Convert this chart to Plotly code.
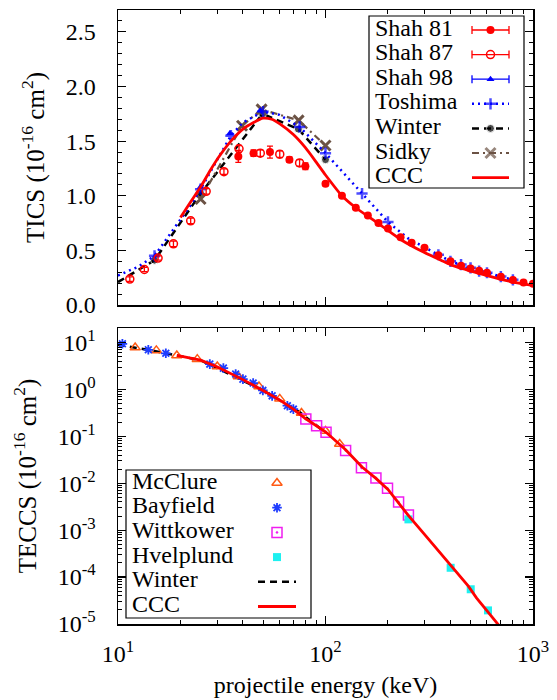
import plotly.graph_objects as go

# ---------------- data: TICS (upper panel) ----------------
shah81_E = [38, 45, 54, 67, 80, 100, 120, 140, 160, 180, 200, 230, 260, 300,
            350, 400, 450, 500, 550, 600, 700, 800, 900, 1000]
shah81_v = [1.36, 1.39, 1.40, 1.33, 1.27, 1.11, 1.00, 0.89, 0.82, 0.75, 0.70,
            0.62, 0.57, 0.525, 0.456, 0.40, 0.36, 0.335, 0.313, 0.295, 0.258,
            0.228, 0.205, 0.195]
shah81_err = [0.055, 0.03, 0.055, 0.025, 0.03, 0.02, 0.015, 0.015, 0.012, 0.012,
              0.012, 0.012, 0.012, 0.012, 0.01, 0.01, 0.01, 0.01, 0.01, 0.01,
              0.01, 0.01, 0.01, 0.01]

shah87_E = [11.4, 13.4, 15.6, 18.5, 22.4, 26.6, 32.4, 38.3, 48.5, 60.2, 75]
shah87_v = [0.237, 0.325, 0.43, 0.56, 0.77, 1.04, 1.22, 1.43, 1.39, 1.38, 1.30]
shah87_err = [0.02, 0.02, 0.02, 0.025, 0.025, 0.025, 0.025, 0.03, 0.03, 0.03, 0.03]

shah98_E = [15.2, 25, 34.6, 48.5]
shah98_v = [0.45, 1.08, 1.57, 1.78]

toshima_E = [10, 12.5, 15, 20, 22.5, 25, 30, 35, 40, 50, 60, 75, 100, 125, 150,
             200, 250, 300, 350, 400, 450, 500, 550, 600, 700, 800]
toshima_v = [0.27, 0.35, 0.45, 0.78, 0.92, 1.06, 1.33, 1.55, 1.67, 1.77, 1.74,
             1.63, 1.39, 1.19, 1.02, 0.76, 0.61, 0.53, 0.46, 0.40, 0.37, 0.34,
             0.31, 0.295, 0.26, 0.23]
toshima_marked_E = [15, 25, 35, 50, 75, 100, 150, 200, 350, 400, 450, 500, 550,
                    600, 700, 800]

winter_E = [10, 15, 25, 49.7, 74, 100]
winter_v = [0.21, 0.41, 1.02, 1.75, 1.61, 1.33]
winter_marked_E = [15, 25, 49.7, 74, 100]

sidky_E = [25, 39.6, 49.2, 74.2, 100]
sidky_v = [0.97, 1.64, 1.79, 1.69, 1.46]

ccc_E = [20, 22.5, 25, 28, 31, 35, 40, 45, 50, 55, 60, 70, 80, 90, 100, 120,
         140, 180, 230, 300, 360, 400, 550, 800, 1000]
ccc_v = [0.80, 0.95, 1.08, 1.24, 1.37, 1.50, 1.61, 1.67, 1.71, 1.70, 1.66, 1.56,
         1.44, 1.31, 1.19, 1.00, 0.89, 0.745, 0.60, 0.48, 0.41, 0.37, 0.29,
         0.21, 0.18]

# ---------------- data: TECCS (lower panel) ----------------
mcclure_E = [12.1, 15.3, 19.2, 24.1, 30.1, 38, 47.8, 60.2, 76.6, 100, 117]
mcclure_v = [7.8, 6.8, 5.3, 4.43, 3.08, 1.89, 1.16, 0.63, 0.315, 0.13, 0.069]

bayfield_E = [10.5, 14.0, 17.0, 27.7, 32.2, 36.9, 40.0, 44.8, 49.9, 55.3, 65.5, 70]
bayfield_v = [9.4, 7.0, 5.9, 3.47, 2.85, 2.13, 1.66, 1.37, 0.955, 0.73, 0.45, 0.38]

wittkower_E = [80.4, 90.6, 100.6, 125, 149, 175, 199, 225, 251]
wittkower_v = [0.234, 0.169, 0.122, 0.050, 0.0213, 0.0130, 0.0078, 0.0040, 0.0021]

hvelplund_E = [251, 401, 501, 607]
hvelplund_v = [0.0017, 1.58e-4, 5.5e-5, 1.95e-5]

winter_teccs_E = [10, 15, 25, 50, 75, 100]
winter_teccs_v = [9.0, 6.6, 4.2, 0.95, 0.33, 0.12]

ccc_teccs_E = [19.2, 25, 30, 40, 50, 60, 70, 80, 100, 125, 150, 175, 200, 250,
               300, 357, 401, 488, 534, 668, 700]
ccc_teccs_v = [5.3, 4.2, 3.05, 1.62, 0.95, 0.60, 0.38, 0.24, 0.125, 0.052,
               0.0222, 0.0127, 0.0074, 0.0021, 8.1e-4, 3.3e-4, 1.78e-4, 6.4e-5,
               3.6e-5, 1.07e-5, 8.3e-6]

# ---------------- tick labels ----------------
x_tickvals = [10, 100, 1000]
x_ticktext = ["10<sup>1</sup>", "10<sup>2</sup>", "10<sup>3</sup>"]
y2_tickvals = [1e-5, 1e-4, 1e-3, 1e-2, 1e-1, 1, 10]
y2_ticktext = ["10<sup>-5</sup>", "10<sup>-4</sup>", "10<sup>-3</sup>",
               "10<sup>-2</sup>", "10<sup>-1</sup>", "10<sup>0</sup>", "10<sup>1</sup>"]

top_legend_names = ["Shah 81", "Shah 87", "Shah 98", "Toshima", "Winter", "Sidky", "CCC"]
bot_legend_names = ["McClure", "Bayfield", "Wittkower", "Hvelplund", "Winter", "CCC"]

# ---------------- styling ----------------
FONT = "Liberation Serif"
FS = 24
RED = "#ff0000"
BLUE = "#0000ff"
BROWN = "#6b5244"
ORANGE = "#ff5a14"
SBLUE = "#1e3cff"
MAGENTA = "#f01ef0"
CYAN = "#1ef0f0"

W, H = 557, 700
ML, MR, MT, MB = 118, 24, 10, 76
PW, PH = W - ML - MR, H - MT - MB


def px(x):
    return (x - ML) / PW


def py(y):
    return (H - MB - y) / PH


fig = go.Figure()


def marks(E, marked, size):
    return [size if e in marked else 0 for e in E]


# ---- upper panel traces ----
fig.add_trace(go.Scatter(x=winter_E, y=winter_v, mode="lines+markers", xaxis="x", yaxis="y",
                         line=dict(color="black", width=2.5, dash="7px,5px"),
                         marker=dict(color="black", size=marks(winter_E, winter_marked_E, 8))))
fig.add_trace(go.Scatter(x=sidky_E, y=sidky_v, mode="lines+markers", xaxis="x", yaxis="y",
                         line=dict(color=BROWN, width=2.2, dash="7px,4px,2px,4px"),
                         marker=dict(symbol="x-thin-open", color=BROWN, size=10,
                                     line=dict(color=BROWN, width=3))))
fig.add_trace(go.Scatter(x=toshima_E, y=toshima_v, mode="lines+markers", xaxis="x", yaxis="y",
                         line=dict(color=BLUE, width=2.5, dash="2px,4px"),
                         marker=dict(symbol="cross-thin-open", color=BLUE,
                                     size=marks(toshima_E, toshima_marked_E, 8),
                                     line=dict(color=BLUE, width=2.5))))
fig.add_trace(go.Scatter(x=shah98_E, y=shah98_v, mode="markers", xaxis="x", yaxis="y",
                         marker=dict(symbol="triangle-up", color=BLUE, size=7)))
fig.add_trace(go.Scatter(x=ccc_E, y=ccc_v, mode="lines", xaxis="x", yaxis="y",
                         line=dict(color=RED, width=2.8, shape="spline", smoothing=0.6)))
fig.add_trace(go.Scatter(x=shah87_E, y=shah87_v, mode="markers", xaxis="x", yaxis="y",
                         error_y=dict(type="data", array=shah87_err, color=RED,
                                      thickness=1.3, width=3),
                         marker=dict(symbol="circle-open", color=RED, size=8,
                                     line=dict(color=RED, width=1.5))))
fig.add_trace(go.Scatter(x=shah81_E, y=shah81_v, mode="markers", xaxis="x", yaxis="y",
                         error_y=dict(type="data", array=shah81_err, color=RED,
                                      thickness=1.3, width=3),
                         marker=dict(symbol="circle", color=RED, size=8)))

# ---- lower panel traces ----
fig.add_trace(go.Scatter(x=winter_teccs_E, y=winter_teccs_v, mode="lines", xaxis="x2", yaxis="y2",
                         line=dict(color="black", width=2.5, dash="7px,5px")))
fig.add_trace(go.Scatter(x=mcclure_E, y=mcclure_v, mode="markers", xaxis="x2", yaxis="y2",
                         marker=dict(symbol="triangle-up-open", color=ORANGE, size=9,
                                     line=dict(color=ORANGE, width=1.5))))
fig.add_trace(go.Scatter(x=bayfield_E, y=bayfield_v, mode="markers", xaxis="x2", yaxis="y2",
                         marker=dict(symbol="asterisk-open", color=SBLUE, size=8,
                                     line=dict(color=SBLUE, width=1.8))))
fig.add_trace(go.Scatter(x=wittkower_E, y=wittkower_v, mode="markers", xaxis="x2", yaxis="y2",
                         marker=dict(symbol="square-open-dot", color=MAGENTA, size=10,
                                     line=dict(color=MAGENTA, width=1.5))))
fig.add_trace(go.Scatter(x=hvelplund_E, y=hvelplund_v, mode="markers", xaxis="x2", yaxis="y2",
                         marker=dict(symbol="square", color=CYAN, size=8)))
fig.add_trace(go.Scatter(x=ccc_teccs_E, y=ccc_teccs_v, mode="lines", xaxis="x2", yaxis="y2",
                         line=dict(color=RED, width=2.8)))

# ---------------- legends (drawn by hand on an overlay axis) ----------------
shapes = []
annotations = []

# upper legend
TB = dict(x0=369, x1=524, y0=16, y1=188)
shapes.append(dict(type="rect", xref="paper", yref="paper",
                   x0=px(TB["x0"]), x1=px(TB["x1"]), y0=py(TB["y1"]), y1=py(TB["y0"]),
                   line=dict(color="black", width=1.2), fillcolor="white", layer="below"))
top_rows = [27.5 + 24.6 * i for i in range(len(top_legend_names))]
sx0, sx1, scx = px(472), px(509), px(490.5)
for name, ry in zip(top_legend_names, top_rows):
    annotations.append(dict(text=name, x=px(373), y=py(ry), xref="paper", yref="paper",
                            xanchor="left", yanchor="middle", showarrow=False,
                            font=dict(family=FONT, size=FS, color="black")))
r = [py(v + 2.5) for v in top_rows]
hw = (sx1 - sx0) / 2
fig.add_trace(go.Scatter(x=[scx], y=[r[0]], xaxis="x3", yaxis="y3", mode="markers",
                         error_x=dict(type="data", array=[hw], color=RED, thickness=1.3, width=4),
                         marker=dict(symbol="circle", color=RED, size=8)))
fig.add_trace(go.Scatter(x=[scx], y=[r[1]], xaxis="x3", yaxis="y3", mode="markers",
                         error_x=dict(type="data", array=[hw], color=RED, thickness=1.3, width=4),
                         marker=dict(symbol="circle-open", color=RED, size=8,
                                     line=dict(color=RED, width=1.5))))
fig.add_trace(go.Scatter(x=[scx], y=[r[2]], xaxis="x3", yaxis="y3", mode="markers",
                         error_x=dict(type="data", array=[hw], color=BLUE, thickness=1.3, width=4),
                         marker=dict(symbol="triangle-up", color=BLUE, size=7)))
fig.add_trace(go.Scatter(x=[sx0, scx, sx1], y=[r[3]] * 3, xaxis="x3", yaxis="y3",
                         mode="lines+markers",
                         line=dict(color=BLUE, width=2.5, dash="2px,4px"),
                         marker=dict(symbol="cross-thin-open", color=BLUE, size=[0, 8, 0],
                                     line=dict(color=BLUE, width=2.5))))
fig.add_trace(go.Scatter(x=[sx0, scx, sx1], y=[r[4]] * 3, xaxis="x3", yaxis="y3",
                         mode="lines+markers",
                         line=dict(color="black", width=2.5, dash="7px,5px"),
                         marker=dict(color="black", size=[0, 8, 0])))
fig.add_trace(go.Scatter(x=[sx0, scx, sx1], y=[r[5]] * 3, xaxis="x3", yaxis="y3",
                         mode="lines+markers",
                         line=dict(color=BROWN, width=2.2, dash="7px,4px,2px,4px"),
                         marker=dict(symbol="x-thin-open", color=BROWN, size=[0, 10, 0],
                                     line=dict(color=BROWN, width=3))))
fig.add_trace(go.Scatter(x=[sx0, sx1], y=[r[6]] * 2, xaxis="x3", yaxis="y3", mode="lines",
                         line=dict(color=RED, width=2.8)))

# lower legend
BB = dict(x0=126, x1=311, y0=470, y1=618)
shapes.append(dict(type="rect", xref="paper", yref="paper",
                   x0=px(BB["x0"]), x1=px(BB["x1"]), y0=py(BB["y1"]), y1=py(BB["y0"]),
                   line=dict(color="black", width=1.2), fillcolor="white", layer="below"))
bot_rows = [480.5 + 24.7 * i for i in range(len(bot_legend_names))]
bx0, bx1, bcx = px(258), px(296), px(277)
for name, ry in zip(bot_legend_names, bot_rows):
    annotations.append(dict(text=name, x=px(130), y=py(ry), xref="paper", yref="paper",
                            xanchor="left", yanchor="middle", showarrow=False,
                            font=dict(family=FONT, size=FS, color="black")))
b = [py(v + 2.5) for v in bot_rows]
fig.add_trace(go.Scatter(x=[bcx], y=[b[0]], xaxis="x3", yaxis="y3", mode="markers",
                         marker=dict(symbol="triangle-up-open", color=ORANGE, size=9,
                                     line=dict(color=ORANGE, width=1.5))))
fig.add_trace(go.Scatter(x=[bcx], y=[b[1]], xaxis="x3", yaxis="y3", mode="markers",
                         marker=dict(symbol="asterisk-open", color=SBLUE, size=8,
                                     line=dict(color=SBLUE, width=1.8))))
fig.add_trace(go.Scatter(x=[bcx], y=[b[2]], xaxis="x3", yaxis="y3", mode="markers",
                         marker=dict(symbol="square-open-dot", color=MAGENTA, size=10,
                                     line=dict(color=MAGENTA, width=1.5))))
fig.add_trace(go.Scatter(x=[bcx], y=[b[3]], xaxis="x3", yaxis="y3", mode="markers",
                         marker=dict(symbol="square", color=CYAN, size=8)))
fig.add_trace(go.Scatter(x=[bx0, bx1], y=[b[4]] * 2, xaxis="x3", yaxis="y3", mode="lines",
                         line=dict(color="black", width=2.5, dash="7px,5px")))
fig.add_trace(go.Scatter(x=[bx0, bx1], y=[b[5]] * 2, xaxis="x3", yaxis="y3", mode="lines",
                         line=dict(color=RED, width=2.8)))

# ---------------- axes ----------------
axis_common = dict(showline=True, linecolor="black", linewidth=1.5, mirror="allticks",
                   ticks="inside", ticklen=8, tickwidth=1.2, tickcolor="black",
                   showgrid=False, zeroline=False, automargin=False,
                   tickfont=dict(family=FONT, size=FS, color="black"))
top_dom = [py(305), 1.0]
bot_dom = [0.0, py(328)]
TITLE_FONT = dict(family=FONT, size=25, color="black")

fig.update_layout(
    template="none",
    width=W, height=H,
    margin=dict(l=ML, r=MR, t=MT, b=MB, autoexpand=False),
    paper_bgcolor="white", plot_bgcolor="rgba(0,0,0,0)",
    showlegend=False,
    font=dict(family=FONT, size=FS, color="black"),
    xaxis=dict(type="log", range=[1, 3], domain=[0, 1], anchor="y",
               tickvals=x_tickvals, showticklabels=False,
               minor=dict(ticks="inside", ticklen=4, dtick="D1", tickcolor="black", tickwidth=1),
               **axis_common),
    yaxis=dict(range=[0, 2.7], domain=top_dom, anchor="x", dtick=0.5, tickformat=".1f",
               ticklabelstandoff=16,
               minor=dict(ticks="inside", ticklen=4, dtick=0.1, tickcolor="black", tickwidth=1),
               title=dict(text="TICS (10<sup>-16</sup> cm<sup>2</sup>)", standoff=14,
                          font=TITLE_FONT),
               **axis_common),
    xaxis2=dict(type="log", range=[1, 3], domain=[0, 1], anchor="y2",
                tickvals=x_tickvals, ticktext=x_ticktext, ticklabelstandoff=8,
                minor=dict(ticks="inside", ticklen=4, dtick="D1", tickcolor="black", tickwidth=1),
                title=dict(text="projectile energy (keV)", standoff=10,
                           font=dict(family=FONT, size=FS, color="black")),
                **axis_common),
    yaxis2=dict(type="log", range=[-5, 1.31], domain=bot_dom, anchor="x2",
                tickvals=y2_tickvals, ticktext=y2_ticktext, ticklabelstandoff=16,
                minor=dict(ticks="inside", ticklen=4, dtick="D1", tickcolor="black", tickwidth=1),
                title=dict(text="TECCS (10<sup>-16</sup> cm<sup>2</sup>)", standoff=14,
                           font=TITLE_FONT),
                **axis_common),
    xaxis3=dict(domain=[0, 1], range=[0, 1], anchor="y3", visible=False, fixedrange=True),
    yaxis3=dict(domain=[0, 1], range=[0, 1], anchor="x3", visible=False, fixedrange=True),
    shapes=shapes,
    annotations=annotations,
)

fig.write_html("out.html",
               config={"displayModeBar": False, "staticPlot": True},
               post_script="document.body.style.margin='0';document.body.style.padding='0';")
